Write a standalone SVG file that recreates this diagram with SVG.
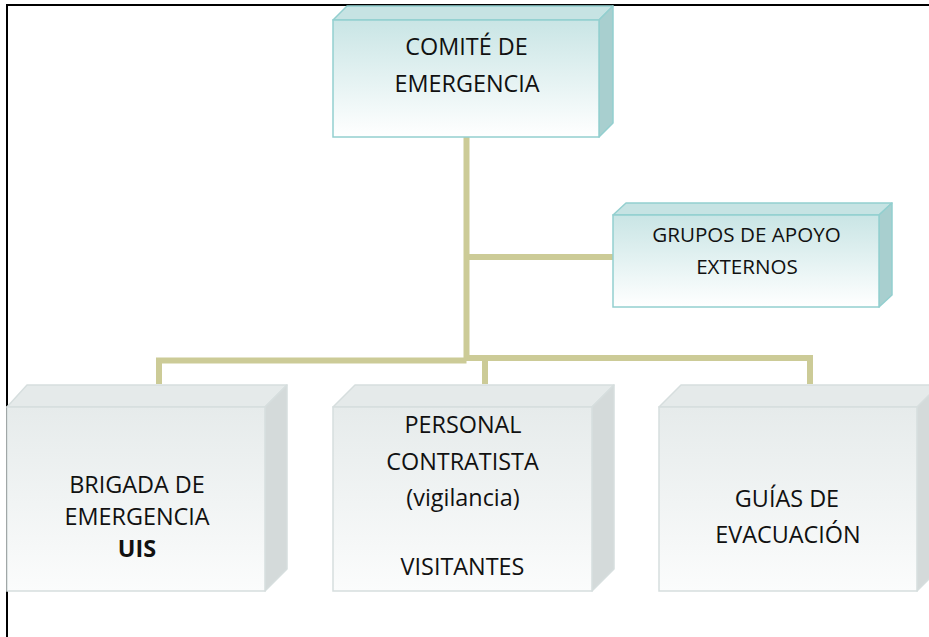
<svg xmlns="http://www.w3.org/2000/svg" width="929" height="637" viewBox="0 0 929 637">
<style>
.t{font-family:"Open Sans","Liberation Sans",sans-serif;font-size:23.4px;fill:#111;text-anchor:middle}
.ts{font-size:20.6px}
.b{font-weight:bold}
.tf{fill:url(#gt);stroke:#93cfcf;stroke-width:1.5}
.tt{fill:#c6e3e3;stroke:#93cfcf;stroke-width:1.5;stroke-linejoin:round}
.tsd{fill:#a8cfcf;stroke:#93cfcf;stroke-width:1.5;stroke-linejoin:round}
.gf{fill:url(#gg);stroke:#d6dede;stroke-width:1.5}
.gt{fill:#e5eaea;stroke:#d6dede;stroke-width:1.5;stroke-linejoin:round}
.gs{fill:#d4dada;stroke:#d6dede;stroke-width:1.5;stroke-linejoin:round}
.c{fill:none;stroke:#cccb97;stroke-width:6;stroke-linejoin:miter}
</style>
<defs>
<linearGradient id="gt" x1="0" y1="0" x2="0" y2="1">
<stop offset="0" stop-color="#c9e5e5"/>
<stop offset="1" stop-color="#ffffff"/>
</linearGradient>
<linearGradient id="gg" x1="0" y1="0" x2="0" y2="1">
<stop offset="0" stop-color="#e6ebeb"/>
<stop offset="1" stop-color="#fbfcfc"/>
</linearGradient>
</defs>
<rect width="929" height="637" fill="#ffffff"/>
<g id="frame">
<path d="M7,637 V5 H929" fill="none" stroke="#000" stroke-width="2"/>
</g>
<g id="connectors">
<path class="c" d="M466.5,137 V361"/>
<path class="c" d="M466.5,257 H613"/>
<path class="c" d="M159,384 V360.5 H466.5"/>
<path class="c" d="M466.5,358 H810 V384"/>
<path class="c" d="M485,358 V384"/>
</g>
<g id="comite">
<polygon class="tt" points="333,20 347,6 613,6 599,20"/>
<polygon class="tsd" points="599,20 613,6 613,123 599,137"/>
<rect class="tf" x="333" y="20" width="266" height="117"/>
<text class="t" x="466.5" y="55">COMITÉ DE</text>
<text class="t" x="467" y="92">EMERGENCIA</text>
</g>
<g id="grupos">
<polygon class="tt" points="613,215 626,203 892,203 879,215"/>
<polygon class="tsd" points="879,215 892,203 892,295 879,307"/>
<rect class="tf" x="613" y="215" width="266" height="92"/>
<text class="t ts" x="746.5" y="242">GRUPOS DE APOYO</text>
<text class="t ts" x="747" y="274">EXTERNOS</text>
</g>
<g id="brigada">
<polygon class="gt" points="7,407 27,385 287,385 265,407"/>
<polygon class="gs" points="265,407 287,385 287,569 265,591"/>
<rect class="gf" x="7" y="407" width="258" height="184"/>
<text class="t" x="137" y="493">BRIGADA DE</text>
<text class="t" x="137" y="525">EMERGENCIA</text>
<text class="t b" x="137" y="557">UIS</text>
</g>
<g id="personal">
<polygon class="gt" points="333,407 355,385 614,385 592,407"/>
<polygon class="gs" points="592,407 614,385 614,569 592,591"/>
<rect class="gf" x="333" y="407" width="259" height="184"/>
<text class="t" x="463" y="433">PERSONAL</text>
<text class="t" x="462.5" y="470">CONTRATISTA</text>
<text class="t" x="463" y="506">(vigilancia)</text>
<text class="t" x="462.5" y="575">VISITANTES</text>
</g>
<g id="guias">
<polygon class="gt" points="659,407 681,385 940,385 918,407"/>
<polygon class="gs" points="917,407 939,385 939,569 917,591"/>
<rect class="gf" x="659" y="407" width="258" height="184"/>
<text class="t" x="787" y="507">GUÍAS DE</text>
<text class="t" x="788" y="543">EVACUACIÓN</text>
</g>
</svg>
